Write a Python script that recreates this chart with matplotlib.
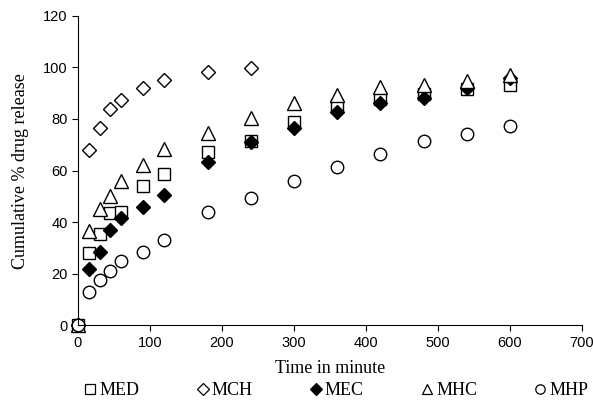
import matplotlib.pyplot as plt
from matplotlib.lines import Line2D

# sampling times (minutes)
time_min = [0, 15, 30, 45, 60, 90, 120, 180, 240, 300, 360, 420, 480, 540, 600]
time_mch = [0, 15, 30, 45, 60, 90, 120, 180, 240]

# cumulative % drug release per formulation
med = [0, 28, 35.5, 43.5, 44, 54, 58.5, 67, 71.5, 78.8, 85.3, 87.9, 89.6, 91.5, 93]
mch = [0, 68, 76.5, 84, 87.5, 92, 95, 98.2, 99.6]
mec = [0, 22, 28.5, 37, 41.5, 46, 50.5, 63.5, 71, 76.4, 82.7, 86.2, 88.3, 92, 96]
mhc = [0, 36.5, 45, 50, 56, 62, 68.5, 74.5, 80.5, 86.1, 89.2, 92.4, 93, 94.8, 97]
mhp = [0, 13, 17.5, 21, 25, 28.5, 33, 44, 49.5, 55.9, 61.4, 66.3, 71.4, 74.1, 77.2]

series = [
    ('MED', time_min, med, 's', 'white'),
    ('MCH', time_mch, mch, 'D', 'white'),
    ('MEC', time_min, mec, 'D', 'black'),
    ('MHC', time_min, mhc, '^', 'white'),
    ('MHP', time_min, mhp, 'o', 'white'),
]
sizes = {'s': 9, 'D': 7.5, '^': 10, 'o': 9}

fig = plt.figure(figsize=(5.93, 4.12), dpi=100)
ax = fig.add_axes([0.1315, 0.21, 0.85, 0.752])

for name, t, y, m, fc in series:
    ax.plot(t, y, linestyle='none', marker=m, markersize=sizes[m],
            markerfacecolor=fc, markeredgecolor='black', markeredgewidth=1.0,
            label=name, clip_on=False)

ax.set_xlim(0, 700)
ax.set_ylim(0, 120)
ax.set_xticks(range(0, 701, 100))
ax.set_yticks(range(0, 121, 20))
for s in ['top', 'right']:
    ax.spines[s].set_visible(False)
for s in ['left', 'bottom']:
    ax.spines[s].set_linewidth(0.8)
ax.tick_params(direction='out', length=4, width=0.8, labelsize=10.5)
for lab in ax.get_xticklabels() + ax.get_yticklabels():
    lab.set_family('Liberation Sans')

ax.set_xlabel('Time in minute', family='Liberation Serif', fontsize=13, labelpad=7)
ax.set_ylabel('Cumulative % drug release', family='Liberation Serif', fontsize=13, labelpad=10)

handles = [Line2D([], [], linestyle='none', marker=m, markersize=sizes[m] * 0.75,
                  markerfacecolor=fc, markeredgecolor='black', markeredgewidth=0.9)
           for _, _, _, m, fc in series]
fig.legend(handles, [s[0] for s in series], loc='center', ncol=5,
           bbox_to_anchor=(0.567, 0.052), frameon=False, handlelength=0.7,
           handletextpad=0.15, columnspacing=3.15, borderpad=0.1,
           prop={'family': 'Liberation Serif', 'size': 13})

fig.savefig('out.png', dpi=100)
